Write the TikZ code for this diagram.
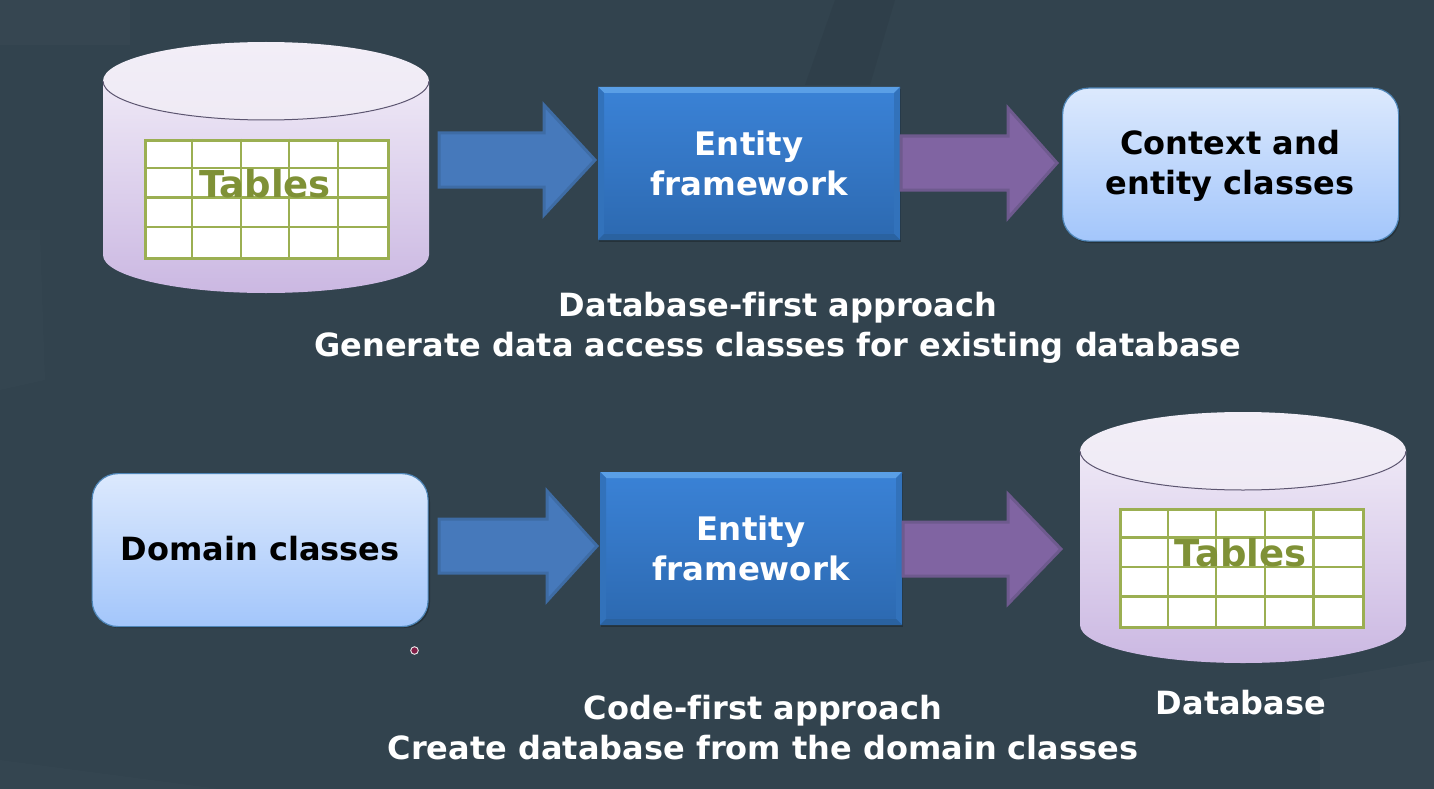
\documentclass[tikz,border=0pt]{standalone}
\usepackage{fontspec}
\setmainfont[Ligatures=NoCommon]{DejaVu Sans}
\usetikzlibrary{calc,shadings}
\definecolor{bgc}{HTML}{32434E}
\definecolor{bluefill}{HTML}{4679BB}
\definecolor{blueedge}{HTML}{3E6CA5}
\definecolor{purpfill}{HTML}{8064A2}
\definecolor{purpedge}{HTML}{6E5A8E}
\definecolor{tablec}{HTML}{9BAF52}
\definecolor{tabtext}{HTML}{7F9136}
\definecolor{softtop}{HTML}{DCE9FD}
\definecolor{softbot}{HTML}{A3C6FB}
\definecolor{softedge}{HTML}{4F86B8}
\definecolor{cylhi}{HTML}{EEE8F6}
\definecolor{cyllo}{HTML}{CBB8E2}
\definecolor{captop}{HTML}{F2EEF7}
\definecolor{capbot}{HTML}{EFEAF5}
\definecolor{capedge}{HTML}{5C5570}
\definecolor{eftop}{HTML}{3A82D6}
\definecolor{efmid}{HTML}{3476C4}
\definecolor{efbot}{HTML}{2C69B0}
\definecolor{efedge}{HTML}{1F5A8A}
\definecolor{bevlight}{HTML}{5A9FE6}
\definecolor{bevleft}{HTML}{3272BB}
\definecolor{bevdark}{HTML}{2A62A0}
\tikzset{
  x=1pt,y=-1pt,
  efbox/.style={rectangle,minimum width=301pt,minimum height=152pt,inner sep=0pt,
    top color=eftop,bottom color=efbot,middle color=efmid,draw=efedge,line width=1pt},
  eftext/.style={font=\bfseries\fontsize{32.4}{40}\selectfont,text=white,align=center,inner sep=0pt},
  softbox/.style={rectangle,rounded corners=26pt,minimum width=336pt,minimum height=153pt,inner sep=0pt,
    top color=softtop,bottom color=softbot,draw=softedge,line width=1.2pt},
  softtext/.style={font=\bfseries\fontsize{32}{40}\selectfont,text=black,align=center,inner sep=0pt},
  caption/.style={font=\bfseries\fontsize{32}{40}\selectfont,text=white,align=center,inner sep=0pt},
  tabtxt/.style={font=\bfseries\fontsize{37}{40}\selectfont,text=tabtext,inner sep=0pt},
  blockblue/.style={fill=bluefill,draw=blueedge,line width=3pt,miter limit=3},
  blockpurp/.style={fill=purpfill,draw=purpedge,line width=3pt,miter limit=3},
  gridline/.style={tablec,line width=2.2pt},
}
\newcommand{\dbcyl}[5]{%
  \pgfmathsetmacro{\xl}{#2}\pgfmathsetmacro{\xr}{#2+326}\pgfmathsetmacro{\xm}{#2+163}
  \pgfmathsetmacro{\ym}{#3+39}\pgfmathsetmacro{\yb}{#3+213}
  \shade[top color=cylhi,bottom color=cyllo,draw=none]
    (\xl,\ym) -- (\xl,\yb) arc[start angle=180,end angle=360,x radius=163,y radius=-38]
    -- (\xr,\ym) -- cycle;
  \shade[top color=captop,bottom color=capbot]
    (\xm,\ym) ellipse[x radius=163,y radius=39];
  \draw[capedge,line width=1pt] (\xl,\ym) arc[start angle=180,end angle=360,x radius=163,y radius=-39];
  \node[rectangle,minimum width=243pt,minimum height=118pt,inner sep=0pt,fill=white,draw=tablec,line width=3.4pt,anchor=north west] (#1) at (#4,#5) {};
  \foreach \i in {1,...,4}{\draw[gridline] ($(#1.north west)+(\i*48.6,0)$) -- ($(#1.south west)+(\i*48.6,0)$);}
  \foreach \i in {1,2,3}{\draw[gridline] ($(#1.north west)+(0,\i*29.5)$) -- ($(#1.north east)+(0,\i*29.5)$);}
}
% bevelled edges of an Entity framework box
\newcommand{\bevel}[1]{%
  \fill[bevlight] (#1.north west) -- (#1.north east) -- ($(#1.north east)+(-6,6)$) -- ($(#1.north west)+(6,6)$) -- cycle;
  \fill[bevleft] (#1.north west) -- ($(#1.north west)+(6,6)$) -- ($(#1.south west)+(6,-6)$) -- (#1.south west) -- cycle;
  \fill[bevleft] (#1.north east) -- ($(#1.north east)+(-6,6)$) -- ($(#1.south east)+(-6,-6)$) -- (#1.south east) -- cycle;
  \fill[bevdark] (#1.south west) -- (#1.south east) -- ($(#1.south east)+(-6,-6)$) -- ($(#1.south west)+(6,-6)$) -- cycle;
}
\newcommand{\blockarrow}[6]{%
  \draw[#1,line join=miter] let \p1=(#2),\p2=(#3) in
    (\x1,\y1+#4pt*-1) -- (\x2-#6pt,\y1+#4pt*-1) -- (\x2-#6pt,\y1+#5pt*-1) -- (\x2,\y1)
    -- (\x2-#6pt,\y1+#5pt) -- (\x2-#6pt,\y1+#4pt) -- (\x1,\y1+#4pt) -- cycle;
}
\begin{document}
\begin{tikzpicture}
\useasboundingbox (0,0) rectangle (1434,789);
\fill[bgc] (0,0) rectangle (1434,789);
% faint background texture
\fill[white,opacity=.02] (0,0) rectangle (130,45);
\fill[black,opacity=.05] (835,0) -- (895,0) -- (870,85) -- (805,85) -- cycle;
\fill[white,opacity=.012] (0,230) -- (40,230) -- (45,380) -- (0,390) -- cycle;
\fill[white,opacity=.02] (1320,680) -- (1434,660) -- (1434,789) -- (1320,789) -- cycle;
\fill[white,opacity=.012] (0,760) -- (220,789) -- (0,789) -- cycle;

% upper row
\dbcyl{tableA}{103}{42}{143.5}{138.5}
\node[tabtxt] (tablesA) at (265,184) {Tables};
\fill[black,opacity=.25] (599,89) rectangle (901,242);
\node[efbox,anchor=north west] (efA) at (598,87) {};
\bevel{efA}
\node[eftext] (efAt) at (efA.center) {Entity\\framework};
\fill[black,opacity=.25,rounded corners=26pt] (1064,90) rectangle (1400,243);
\node[softbox,anchor=north west] (ctx) at (1062,87.5) {};
\node[softtext] (ctxt) at ($(ctx.center)+(-0.5,1.5)$) {Context and\\entity classes};
\coordinate (sA) at (439,160); \coordinate (tipA) at (595,160);
\blockarrow{blockblue}{sA}{tipA}{27}{55}{51}
\coordinate (sB) at (901,163); \coordinate (tipB) at (1057,163);
\blockarrow{blockpurp}{sB}{tipB}{27}{55}{49}
\node[caption] (capA) at (778,328) {Database-first approach\\Generate data access classes for existing database};

% lower row
\fill[black,opacity=.25,rounded corners=26pt] (93.5,476) rectangle (430,628);
\node[softbox,anchor=north west] (dom) at (91.5,473) {};
\node[softtext] (domt) at ($(dom.center)+(0,-2)$) {Domain classes};
\fill[black,opacity=.25] (601,474) rectangle (903,627);
\node[efbox,anchor=north west] (efB) at (600,472) {};
\bevel{efB}
\node[eftext] (efBt) at (efB.center) {Entity\\framework};
\dbcyl{tableB}{1080}{412}{1119}{508}
\node[tabtxt] (tablesB) at (1240.5,553) {Tables};
\coordinate (sC) at (439,546); \coordinate (tipC) at (597,546);
\blockarrow{blockblue}{sC}{tipC}{27}{55}{50}
\coordinate (sD) at (903,549); \coordinate (tipD) at (1061,549);
\blockarrow{blockpurp}{sD}{tipD}{27}{55}{53}
\node[caption] (capB) at (763,728) {Code-first approach\\Create database from the domain classes};
\node[caption] (dbl) at (1241,703) {Database};
% pointer dot
\draw[white!85!gray,line width=.9pt,fill=purple!55!bgc] (414.5,650.5) circle (3.8);
\end{tikzpicture}
\end{document}
